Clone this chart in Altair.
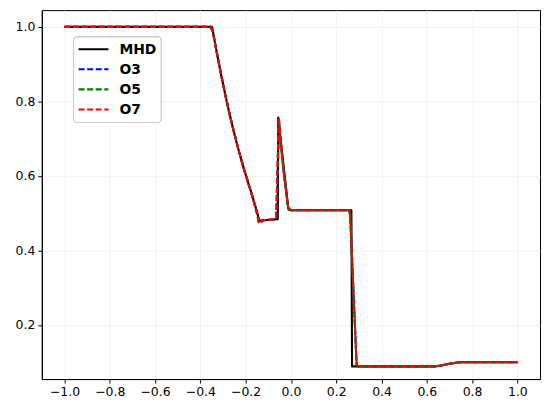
import altair as alt
import pandas as pd

# ---- data ----
series_names = ["MHD", "O3", "O5", "O7"]
series_colors = ["#000000", "#0000ff", "#008000", "#ff0000"]

mhd_x = [-1.0, -0.348, -0.33, -0.31, -0.29, -0.27, -0.25, -0.23, -0.21, -0.19, -0.17, -0.15,
         -0.14, -0.058, -0.056, -0.011, 0.0, 0.267, 0.27, 0.634, 0.66, 0.70, 0.744, 1.0]
mhd_y = [1.0, 1.0, 0.94, 0.877, 0.818, 0.764, 0.714, 0.667, 0.624, 0.584, 0.545, 0.505,
         0.48, 0.484, 0.757, 0.51, 0.508, 0.508, 0.089, 0.089, 0.091, 0.096, 0.1, 0.1]

num_x = [-1.0, -0.356, -0.346, -0.335, -0.31, -0.29, -0.27, -0.25, -0.23, -0.21, -0.19, -0.17,
         -0.15, -0.142, -0.135, -0.125, -0.065, -0.06, -0.053, -0.045, -0.03, -0.012, 0.0,
         0.258, 0.262, 0.29, 0.296, 0.634, 0.66, 0.70, 0.744, 1.0]
o3_y = [1.0, 1.0, 0.99, 0.955, 0.877, 0.818, 0.764, 0.714, 0.667, 0.624, 0.584, 0.545,
        0.5, 0.477, 0.474, 0.481, 0.484, 0.58, 0.74, 0.69, 0.6, 0.515, 0.508,
        0.508, 0.49, 0.095, 0.089, 0.089, 0.091, 0.096, 0.1, 0.1]
o5_y = [1.0, 1.0, 0.99, 0.955, 0.877, 0.818, 0.764, 0.714, 0.667, 0.624, 0.584, 0.545,
        0.5, 0.476, 0.473, 0.481, 0.484, 0.6, 0.752, 0.69, 0.6, 0.514, 0.508,
        0.508, 0.49, 0.094, 0.089, 0.089, 0.091, 0.096, 0.1, 0.1]
o7_y = [1.0, 1.0, 0.99, 0.955, 0.877, 0.818, 0.764, 0.714, 0.667, 0.624, 0.584, 0.545,
        0.5, 0.476, 0.472, 0.481, 0.484, 0.61, 0.756, 0.69, 0.6, 0.514, 0.508,
        0.508, 0.49, 0.094, 0.089, 0.089, 0.091, 0.096, 0.1, 0.1]

x_ticks = [-1.0, -0.8, -0.6, -0.4, -0.2, 0.0, 0.2, 0.4, 0.6, 0.8, 1.0]
y_ticks = [0.2, 0.4, 0.6, 0.8, 1.0]

rows = []
for s, xs, ys in [("MHD", mhd_x, mhd_y), ("O3", num_x, o3_y),
                  ("O5", num_x, o5_y), ("O7", num_x, o7_y)]:
    for i, (xv, yv) in enumerate(zip(xs, ys)):
        rows.append({"series": s, "x": xv, "y": yv, "i": i})
df = pd.DataFrame(rows)

W, H = 501, 371
FONT = "DejaVu Sans"
LW = 2.1
DASH = [6, 2.6]

xscale = alt.Scale(domain=[-1.1, 1.1], nice=False, zero=False)
yscale = alt.Scale(domain=[0.055, 1.045], nice=False, zero=False)

common = dict(title=None, grid=True, gridColor="#efefef", gridWidth=0.8,
              domainColor="#000000", tickColor="#000000", tickSize=4, labelFont=FONT,
              labelFontSize=12.5, labelColor="#000000", labelPadding=3)
xaxis = alt.Axis(values=x_ticks,
                 labelExpr="replace(format(datum.value, '.1f'), '-', '\u2212')", **common)
yaxis = alt.Axis(values=y_ticks, labelExpr="format(datum.value, '.1f')", **common)

layers = []
for s, c in zip(series_names, series_colors):
    dash = [1, 0] if s == "MHD" else DASH
    layers.append(
        alt.Chart(df[df.series == s]).mark_line(color=c, strokeWidth=LW, strokeDash=dash,
                                                 strokeJoin="round")
        .encode(x=alt.X("x:Q", scale=xscale, axis=xaxis),
                y=alt.Y("y:Q", scale=yscale, axis=yaxis),
                order="i:Q")
    )

# ---- legend (manual, upper left) ----
leg_df = pd.DataFrame({"series": series_names})
box = alt.Chart(leg_df).mark_rect(fill="white", fillOpacity=0.85, stroke="#cccccc",
                                  strokeWidth=1, cornerRadius=3).encode(
    x=alt.value(32), x2=alt.value(120), y=alt.value(27), y2=alt.value(113))
layers.append(box)
row_y = [39.3, 59.5, 79.7, 99.9]
for s, c, yy in zip(series_names, series_colors, row_y):
    dash = [1, 0] if s == "MHD" else DASH
    layers.append(alt.Chart(leg_df[leg_df.series == s]).mark_rule(
        color=c, strokeWidth=LW, strokeDash=dash).encode(
        x=alt.value(37), x2=alt.value(67), y=alt.value(yy)))
    layers.append(alt.Chart(leg_df[leg_df.series == s]).mark_text(
        align="left", baseline="middle", font=FONT, fontSize=14, fontWeight="bold",
        color="#000000").encode(x=alt.value(78), y=alt.value(yy + 0.5), text="series:N"))

chart = alt.layer(*layers).properties(
    width=W, height=H, background="white",
    autosize=alt.AutoSizeParams(type="none"),
    padding={"left": 34, "top": 1, "right": 6, "bottom": 30},
).configure_view(stroke="#000000", strokeWidth=1)

chart.save("out.html", embed_options={"renderer": "svg", "actions": False})
